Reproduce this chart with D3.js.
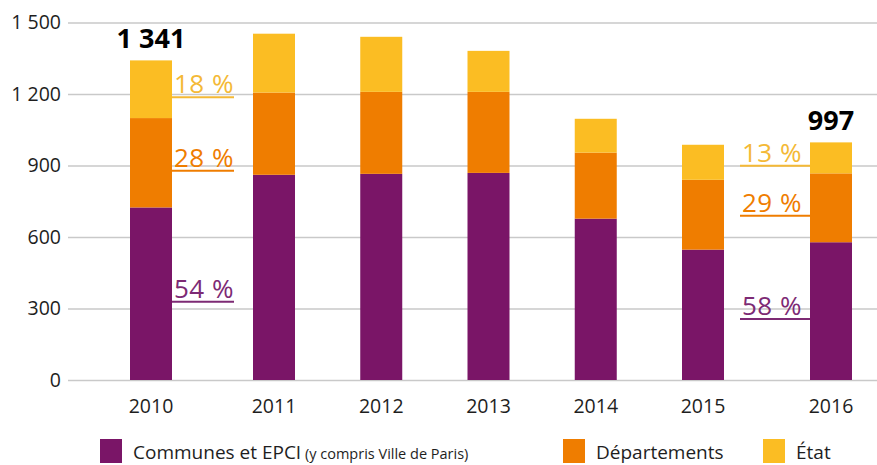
<!DOCTYPE html>
<html>
<head>
<meta charset="utf-8">
<script src="https://cdn.jsdelivr.net/npm/d3@7"></script>
<style>
  body { margin: 0; background: #fff; }
  svg { display: block; font-family: "Open Sans", sans-serif; }
</style>
</head>
<body>
<svg id="chart" width="877" height="465"></svg>
<script>
// data (millions d'euros)
const years = [2010, 2011, 2012, 2013, 2014, 2015, 2016]
const communes = [724, 861, 865, 869, 677, 547, 578]
const departements = [375, 345, 344, 340, 277, 293, 289]
const etat = [242, 247, 231, 172, 142, 147, 130]
const yTicks = [0, 300, 600, 900, 1200, 1500]
const seriesNames = ["Communes et EPCI", "Départements", "État"]
const seriesNote = ["(y compris Ville de Paris)", "", ""]

const colors = ["#7a1567", "#ef7d00", "#fbbd23"]
const labelColors = ["#7d2a74", "#ef7d00", "#f4b936"]

const svg = d3.select("#chart")
const width = 877

const fr = d3.formatLocale({ decimal: ",", thousands: "\u00a0", grouping: [3], currency: ["", " €"] })
const fmt = fr.format(",")

// x positions: outer years sit a bit further apart in the original
const x = d3.scaleLinear()
  .domain([2010, 2011, 2015, 2016])
  .range([151, 274, 703, 831])
const barW = 42

const y = d3.scaleLinear()
  .domain([0, 1500])
  .range([380, 22.5])

// grid + y labels
const yAxis = d3.axisLeft(y)
  .tickValues(yTicks)
  .tickFormat(fmt)
  .tickSize(-(width - 68))
  .tickPadding(7)

const yg = svg.append('g')
  .attr('transform', 'translate(68,0)')
  .call(yAxis)
yg.select('.domain').remove()
yg.selectAll('.tick line').attr('stroke', '#c9c9c9').attr('stroke-width', 1.6)
yg.selectAll('.tick text')
  .attr('font-size', '19.5px')
  .attr('fill', '#1e1e1e')
  .attr('font-family', '"Open Sans", sans-serif')

// stacked bars
const table = years.map((yr, i) => ({ year: yr, communes: communes[i], departements: departements[i], etat: etat[i] }))
const keys = ["communes", "departements", "etat"]
const stack = d3.stack().keys(keys)(table)

svg.append('g').selectAll('g')
  .data(stack)
  .enter()
  .append('g')
  .attr('fill', (d, i) => colors[i])
  .selectAll('rect')
  .data(d => d)
  .enter()
  .append('rect')
  .attr('x', d => x(d.data.year) - barW / 2)
  .attr('width', barW)
  .attr('y', d => y(d[1]))
  .attr('height', d => y(d[0]) - y(d[1]))

// x labels
svg.append('g').selectAll('text')
  .data(years)
  .enter()
  .append('text')
  .attr('x', d => x(d))
  .attr('y', 413)
  .attr('text-anchor', 'middle')
  .attr('font-size', '19.5px')
  .attr('fill', '#1e1e1e')
  .text(d => d)

// totals on first and last bar
const ends = [0, years.length - 1]
svg.append('g').selectAll('text')
  .data(ends)
  .enter()
  .append('text')
  .attr('x', i => x(years[i]))
  .attr('y', i => y(communes[i] + departements[i] + etat[i]) - 12)
  .attr('text-anchor', 'middle')
  .attr('font-size', '27px')
  .attr('font-weight', 'bold')
  .attr('fill', '#000')
  .text(i => fmt(communes[i] + departements[i] + etat[i]))

// share labels with underline
const pct = d3.format(".0f")
ends.forEach((i, k) => {
  const total = communes[i] + departements[i] + etat[i]
  const left = k === 1
  stack.forEach((s, j) => {
    const seg = s[i]
    const lineY = (y(seg[0]) + y(seg[1])) / 2 + 8
    const x0 = left ? x(years[i]) - barW / 2 - 70 : x(years[i]) + barW / 2
    const x1 = left ? x(years[i]) - barW / 2 : x(years[i]) + barW / 2 + 62
    const g = svg.append('g')
    g.append('line')
      .attr('x1', x0).attr('x2', x1)
      .attr('y1', lineY).attr('y2', lineY)
      .attr('stroke', labelColors[j])
      .attr('stroke-width', 2)
    g.append('text')
      .attr('x', x0 + 2)
      .attr('y', lineY - 4)
      .attr('font-size', '26px')
      .attr('letter-spacing', '0.5px')
      .attr('fill', labelColors[j])
      .text(pct((seg[1] - seg[0]) / total * 100) + "\u00a0%")
  })
})

// legend
const legendX = [100, 563, 763]
const legendG = svg.append('g').selectAll('g')
  .data(seriesNames)
  .enter()
  .append('g')
  .attr('transform', (d, i) => `translate(${legendX[i]},439)`)

legendG.append('rect')
  .attr('width', 22)
  .attr('height', 24)
  .attr('fill', (d, i) => colors[i])

const lt = legendG.append('text')
  .attr('x', 33)
  .attr('y', 20)
  .attr('font-size', '19px')
  .attr('fill', '#1e1e1e')
lt.append('tspan').text(d => d)
lt.append('tspan')
  .attr('font-size', '14.5px')
  .text((d, i) => seriesNote[i] ? " " + seriesNote[i] : "")
</script>
</body>
</html>
